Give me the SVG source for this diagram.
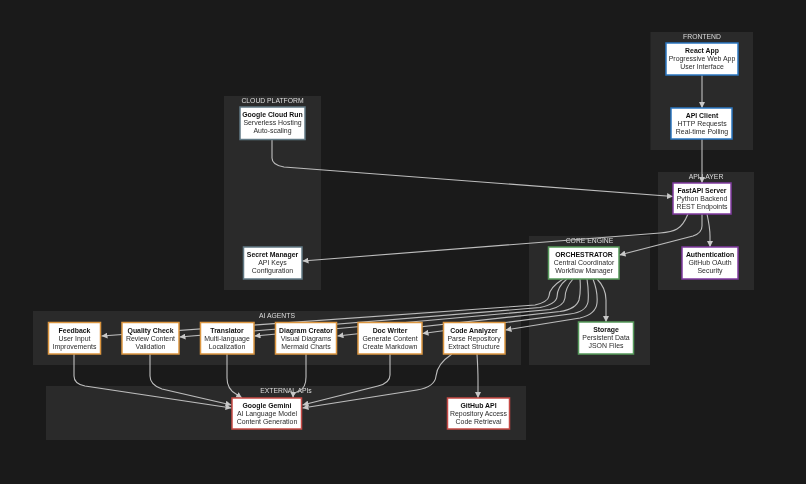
<svg xmlns="http://www.w3.org/2000/svg" width="806" height="484" viewBox="0 0 806 484">
<style>
text{font-family:"Liberation Sans",Arial,sans-serif;font-size:6.95px;text-anchor:middle;fill:#2a2a2a}
.t{font-weight:700;fill:#111;font-size:6.9px}
.cl{fill:#2c2c2c}
.cl-t{fill:#ddd;font-size:6.8px}
.e{fill:none;stroke:#bdbdbd;stroke-width:1.1;marker-end:url(#a)}
.n{fill:#fff;stroke-width:1.5}
.fe{stroke:#2a76c0}.api{stroke:#7f3a9e}.core{stroke:#55995a}.ag{stroke:#dc9640}.ext{stroke:#c54a44}.cp{stroke:#607884}
</style>
<defs>
<marker id="a" markerUnits="userSpaceOnUse" markerWidth="7" markerHeight="6" refX="6" refY="3" orient="auto"><path d="M0 0L6 3L0 6Z" fill="#c8c8c8"/></marker>
<filter id="soft" x="0" y="0" width="100%" height="100%"><feGaussianBlur stdDeviation="0.3"/></filter>
</defs>
<rect width="806" height="484" fill="#1a1a1a"/>
<g filter="url(#soft)">
<g id="clusters">
<g id="frontend"><rect class="cl" x="650.5" y="32" width="102.5" height="118"/><text class="cl-t" x="702" y="39">FRONTEND</text></g>
<g id="cloud-platform"><rect class="cl" x="224" y="96" width="97" height="194"/><text class="cl-t" x="272.500" y="103">CLOUD PLATFORM</text></g>
<g id="api-layer"><rect class="cl" x="658" y="172" width="96" height="118"/><text class="cl-t" x="706" y="178.500">API LAYER</text></g>
<g id="core-engine"><rect class="cl" x="529" y="236" width="121" height="129"/><text class="cl-t" x="589.500" y="243">CORE ENGINE</text></g>
<g id="ai-agents"><rect class="cl" x="33" y="311" width="488" height="54"/><text class="cl-t" x="277" y="318">AI AGENTS</text></g>
<g id="external-apis"><rect class="cl" x="46" y="386" width="480" height="54"/><text class="cl-t" x="286" y="393">EXTERNAL APIs</text></g>
</g>
<g id="connectors">
<path class="e" d="M702 75V108"/>
<path class="e" d="M702 139V183"/>
<path class="e" d="M272 140V158Q272 165 284 167L673 196.500"/>
<path class="e" d="M688 214Q683 226 677 229Q672 232 660 233L302.500 261"/>
<path class="e" d="M702 214V226Q702 233 693 236L619.500 255"/>
<path class="e" d="M707 214Q710 228 710 236V247"/>
<path class="e" d="M597 279Q606 288 606 300V322"/>
<path class="e" d="M593 279Q598 292 597 303Q596 314 580 318L505.500 330"/>
<path class="e" d="M587 279Q589 292 588 302Q586 312 570 314L422.500 333.500"/>
<path class="e" d="M580 279Q581 292 579 300Q576 309 560 311.500L337.500 336"/>
<path class="e" d="M573 279Q565 288 565 298Q564 306 550 309.500L254.500 336"/>
<path class="e" d="M567 279Q557 287 557 297Q556 304 540 307.500L179.500 337"/>
<path class="e" d="M563 279Q549 288 549 296Q548 302 535 305L101.500 336"/>
<path class="e" d="M452 354Q437 364 436 376Q435 387 417 390L302.500 408"/>
<path class="e" d="M477 354Q478 370 478 380V398"/>
<path class="e" d="M390 354V375Q390 383 378 386L302.500 405"/>
<path class="e" d="M306 354V377Q306 388 299 391Q293 393 293 397.500"/>
<path class="e" d="M227 354V378Q227 389 236 394L242 398"/>
<path class="e" d="M150 354V376Q150 385 162 389L231.500 405"/>
<path class="e" d="M74 354V376Q74 384 85 386L231.500 408"/>
</g>
<g id="react-app"><rect class="n fe" x="666" y="43" width="72" height="32"/><text class="t" x="702" y="53">React App</text><text x="702" y="61">Progressive Web App</text><text x="702" y="69">User Interface</text></g>
<g id="api-client"><rect class="n fe" x="671" y="108" width="61" height="31"/><text class="t" x="702" y="118">API Client</text><text x="702" y="126">HTTP Requests</text><text x="702" y="134">Real-time Polling</text></g>
<g id="fastapi"><rect class="n api" x="673" y="183" width="58" height="31"/><text class="t" x="702" y="193">FastAPI Server</text><text x="702" y="201">Python Backend</text><text x="702" y="209">REST Endpoints</text></g>
<g id="auth"><rect class="n api" x="682" y="247" width="56" height="32"/><text class="t" x="710" y="257">Authentication</text><text x="710" y="265">GitHub OAuth</text><text x="710" y="273">Security</text></g>
<g id="cloud-run"><rect class="n cp" x="240" y="107" width="65" height="32.500"/><text class="t" x="272.500" y="117">Google Cloud Run</text><text x="272.500" y="125">Serverless Hosting</text><text x="272.500" y="133">Auto-scaling</text></g>
<g id="secret-manager"><rect class="n cp" x="243.500" y="247" width="58.500" height="32"/><text class="t" x="272.500" y="257">Secret Manager</text><text x="272.500" y="265">API Keys</text><text x="272.500" y="273">Configuration</text></g>
<g id="orchestrator"><rect class="n core" x="548.500" y="247" width="70.500" height="32"/><text class="t" x="584" y="257">ORCHESTRATOR</text><text x="584" y="265">Central Coordinator</text><text x="584" y="273">Workflow Manager</text></g>
<g id="storage"><rect class="n core" x="578.500" y="322" width="55" height="32"/><text class="t" x="606" y="332">Storage</text><text x="606" y="340">Persistent Data</text><text x="606" y="348">JSON Files</text></g>
<g id="feedback"><rect class="n ag" x="48.500" y="322.500" width="52" height="31.500"/><text class="t" x="74.500" y="332.500">Feedback</text><text x="74.500" y="340.500">User Input</text><text x="74.500" y="348.500">Improvements</text></g>
<g id="quality-check"><rect class="n ag" x="122" y="322.500" width="57" height="31.500"/><text class="t" x="150.500" y="332.500">Quality Check</text><text x="150.500" y="340.500">Review Content</text><text x="150.500" y="348.500">Validation</text></g>
<g id="translator"><rect class="n ag" x="200.500" y="322.500" width="53.500" height="31.500"/><text class="t" x="227" y="332.500">Translator</text><text x="227" y="340.500">Multi-language</text><text x="227" y="348.500">Localization</text></g>
<g id="diagram-creator"><rect class="n ag" x="275.500" y="322.500" width="61" height="31.500"/><text class="t" x="306" y="332.500">Diagram Creator</text><text x="306" y="340.500">Visual Diagrams</text><text x="306" y="348.500">Mermaid Charts</text></g>
<g id="doc-writer"><rect class="n ag" x="358" y="322.500" width="64" height="31.500"/><text class="t" x="390" y="332.500">Doc Writer</text><text x="390" y="340.500">Generate Content</text><text x="390" y="348.500">Create Markdown</text></g>
<g id="code-analyzer"><rect class="n ag" x="443.500" y="322.500" width="61.500" height="31.500"/><text class="t" x="474" y="332.500">Code Analyzer</text><text x="474" y="340.500">Parse Repository</text><text x="474" y="348.500">Extract Structure</text></g>
<g id="gemini"><rect class="n ext" x="232" y="398" width="69.500" height="31"/><text class="t" x="267" y="408">Google Gemini</text><text x="267" y="416">AI Language Model</text><text x="267" y="424">Content Generation</text></g>
<g id="github"><rect class="n ext" x="447.500" y="398" width="62" height="31"/><text class="t" x="478.500" y="408">GitHub API</text><text x="478.500" y="416">Repository Access</text><text x="478.500" y="424">Code Retrieval</text></g>
</g>
</svg>
